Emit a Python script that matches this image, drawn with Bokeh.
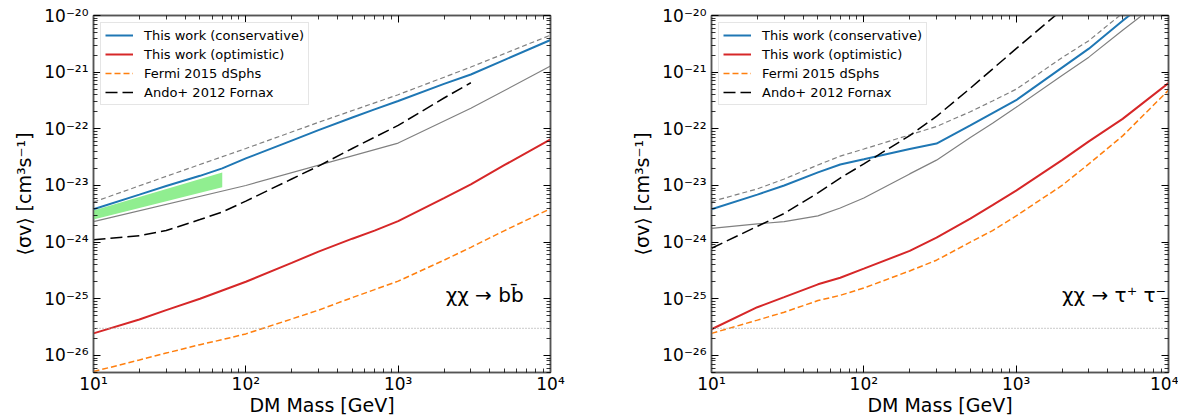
from bokeh.plotting import figure
from bokeh.layouts import row
from bokeh.models import (Range1d, FixedTicker, LogAxis, CustomJSTickFormatter,
                          Legend, LegendItem, Label, Span)
from bokeh.embed import file_html
from bokeh.resources import INLINE

# ---------------- data ----------------
mass = [10, 20, 30, 50, 70, 100, 200, 300, 500, 700, 1000, 2000, 3000, 5000, 10000]

# b bbar channel
bb_conservative = [3.8e-24, 6.9e-24, 9.8e-24, 1.48e-23, 2.0e-23, 3.0e-23, 6.2e-23, 9.5e-23,
                   1.58e-22, 2.2e-22, 3.1e-22, 6.2e-22, 9.1e-22, 1.65e-21, 3.7e-21]
bb_optimistic = [2.45e-26, 4.3e-26, 6.3e-26, 1.0e-25, 1.4e-25, 2.0e-25, 4.3e-25, 6.8e-25,
                 1.15e-24, 1.6e-24, 2.35e-24, 6.0e-24, 1.05e-23, 2.3e-23, 6.5e-23]
bb_fermi = [5.2e-27, 8.3e-27, 1.1e-26, 1.55e-26, 1.9e-26, 2.4e-26, 4.4e-26, 6.3e-26,
            1.05e-25, 1.45e-25, 2.05e-25, 4.8e-25, 8.1e-25, 1.6e-24, 3.9e-24]
bb_ando_mass = [10, 20, 30, 50, 70, 100, 200, 300, 500, 1000, 2000, 3000]
bb_ando = [1.1e-24, 1.3e-24, 1.6e-24, 2.5e-24, 3.4e-24, 5.3e-24, 1.3e-23, 2.2e-23,
           4.5e-23, 1.15e-22, 3.5e-22, 6.5e-22]
bb_gray_dash_mass = [10, 30, 100, 300, 1000, 3000, 10000]
bb_gray_dash = [5.1e-24, 1.45e-23, 4.5e-23, 1.3e-22, 4.0e-22, 1.23e-21, 4.5e-21]
bb_gray_solid_mass = [10, 100, 1000, 3000, 10000]
bb_gray_solid = [2.3e-24, 1.0e-23, 5.6e-23, 2.3e-22, 1.28e-21]
bb_band_mass = [10, 70]
bb_band_low = [2.5e-24, 9.3e-24]
bb_band_high = [3.6e-24, 1.7e-23]

# tau+ tau- channel
tt_conservative = [3.8e-24, 6.9e-24, 1.0e-23, 1.7e-23, 2.35e-23, 2.9e-23, 4.4e-23, 5.5e-23,
                   1.15e-22, 1.9e-22, 3.2e-22, 1.2e-21, 2.6e-21, 8.1e-21, 3.5e-20]
tt_optimistic = [2.9e-26, 7.1e-26, 1.07e-25, 1.8e-25, 2.35e-25, 3.4e-25, 7.0e-25, 1.2e-24,
                 2.6e-24, 4.5e-24, 8.1e-24, 2.8e-23, 6.0e-23, 1.5e-22, 6.4e-22]
tt_fermi = [2.45e-26, 4.2e-26, 5.8e-26, 9.3e-26, 1.15e-25, 1.55e-25, 3.1e-25, 4.8e-25,
            1.0e-24, 1.6e-24, 2.9e-24, 1.0e-23, 2.4e-23, 7.5e-23, 4.8e-22]
tt_ando_mass = [10, 20, 30, 50, 70, 100, 200, 300, 500, 1000, 2000]
tt_ando = [7.8e-25, 1.9e-24, 3.2e-24, 7.4e-24, 1.35e-23, 2.4e-23, 7.6e-23, 1.66e-22,
           5.2e-22, 2.6e-21, 1.26e-20]
tt_gray_dash = [5.2e-24, 8.7e-24, 1.3e-23, 2.3e-23, 3.3e-23, 4.4e-23, 7.8e-23, 1.1e-22,
                2.0e-22, 3.1e-22, 5.0e-22, 1.8e-21, 3.6e-21, 1.1e-20, 4.5e-20]
tt_gray_solid = [1.75e-24, 2.1e-24, 2.3e-24, 2.9e-24, 4.0e-24, 6.0e-24, 1.6e-23, 2.8e-23,
                 7.0e-23, 1.25e-22, 2.4e-22, 8.7e-22, 1.84e-21, 5.5e-21, 2.3e-20]

thermal_relic = 3e-26

legend_labels = ["This work (conservative)", "This work (optimistic)",
                 "Fermi 2015 dSphs", "Ando+ 2012 Fornax"]
x_label = "DM Mass [GeV]"
y_label = "⟨σv⟩ [cm³s⁻¹]"
x_ticks = [10, 100, 1000, 10000]
y_ticks = [1e-26, 1e-25, 1e-24, 1e-23, 1e-22, 1e-21, 1e-20]

# ---------------- styling ----------------
FONT = "DejaVu Sans"
BLUE = "#1f77b4"
RED = "#d62728"
ORANGE = "#ff7f0e"
GRAY = "#808080"
SPINE = "#555555"

x_minor = [m * 10 ** k for k in range(1, 4) for m in range(2, 10)]
y_minor = [m * 10.0 ** k for k in range(-27, -20) for m in range(2, 10) if m * 10.0 ** k >= 5e-27]

sup_js = """
const s = {"0":"\u2070","1":"\u00b9","2":"\u00b2","3":"\u00b3","4":"\u2074","5":"\u2075",
           "6":"\u2076","7":"\u2077","8":"\u2078","9":"\u2079","-":"\u207b"};
const e = Math.round(Math.log10(tick));
return "10" + String(e).split("").map(c => s[c]).join("");
"""


def style_axis(ax, show_labels):
    ax.axis_line_color = SPINE
    ax.axis_line_width = 1.5
    ax.major_tick_in = 7
    ax.major_tick_out = 0
    ax.minor_tick_in = 4
    ax.minor_tick_out = 0
    ax.major_tick_line_color = "black"
    ax.minor_tick_line_color = "black"
    ax.major_tick_line_width = 1
    ax.minor_tick_line_width = 0.8
    ax.major_label_text_font = FONT
    ax.axis_label_text_font = FONT
    ax.axis_label_text_font_style = "normal"
    ax.axis_label_text_color = "black"
    ax.major_label_text_color = "black"
    if show_labels:
        ax.major_label_text_font_size = "17px"
        ax.axis_label_text_font_size = "19px"
    else:
        ax.major_label_standoff = 0
        ax.axis_label_standoff = 0
        ax.axis_label = None


def make_panel(left_border, right_border, cons, opt, fermi, ando_m, ando, gd_m, gd, gs_m, gs,
               ann_text, ann_x, band=None):
    p = figure(x_axis_type="log", y_axis_type="log",
               x_range=Range1d(10, 1e4), y_range=Range1d(5e-27, 1e-20),
               frame_width=457, frame_height=357,
               min_border_left=left_border, min_border_right=right_border,
               min_border_top=15, min_border_bottom=44,
               output_backend="svg", toolbar_location=None)
    p.grid.visible = False
    p.outline_line_color = SPINE
    p.outline_line_width = 1.5
    p.background_fill_color = "white"
    p.border_fill_color = "white"

    xt = FixedTicker(ticks=x_ticks, minor_ticks=x_minor)
    yt = FixedTicker(ticks=y_ticks, minor_ticks=y_minor)
    fmt = CustomJSTickFormatter(code=sup_js)
    blank = CustomJSTickFormatter(code="return '';")
    p.xaxis.ticker = xt
    p.yaxis.ticker = yt
    p.xaxis.formatter = fmt
    p.yaxis.formatter = fmt
    p.xaxis.axis_label = x_label
    p.yaxis.axis_label = y_label
    style_axis(p.xaxis[0], True)
    style_axis(p.yaxis[0], True)
    p.xaxis.major_label_standoff = 1
    p.xaxis.axis_label_standoff = -3
    p.yaxis.major_label_standoff = 5
    p.yaxis.axis_label_standoff = 6

    top = LogAxis(ticker=xt, formatter=blank)
    right = LogAxis(ticker=yt, formatter=blank)
    style_axis(top, False)
    style_axis(right, False)
    p.add_layout(top, "above")
    p.add_layout(right, "right")

    if band is not None:
        p.varea(x=band[0], y1=band[1], y2=band[2], fill_color="#90ee90", fill_alpha=1.0)

    p.line(gd_m, gd, line_color=GRAY, line_width=1.2, line_dash="5 3")
    p.line(gs_m, gs, line_color=GRAY, line_width=1.2)
    p.add_layout(Span(location=thermal_relic, dimension="width", line_color="#aaaaaa",
                      line_width=1.2, line_dash="1 2"))

    r1 = p.line(mass, cons, line_color=BLUE, line_width=2)
    r2 = p.line(mass, opt, line_color=RED, line_width=2)
    r3 = p.line(mass, fermi, line_color=ORANGE, line_width=1.5, line_dash="6 3")
    r4 = p.line(ando_m, ando, line_color="black", line_width=1.5, line_dash="12 5")

    legend = Legend(items=[LegendItem(label=l, renderers=[r]) for l, r in
                           zip(legend_labels, [r1, r2, r3, r4])],
                    location="top_left")
    legend.label_text_font = FONT
    legend.label_text_font_size = "13px"
    legend.label_text_color = "black"
    legend.glyph_width = 28
    legend.glyph_height = 16
    legend.label_height = 16
    legend.label_standoff = 11
    legend.spacing = 3
    legend.padding = 4
    legend.margin = 7
    legend.border_line_color = "#cccccc"
    legend.border_line_width = 1
    legend.background_fill_alpha = 0.8
    p.add_layout(legend)

    p.add_layout(Label(x=ann_x, y=1.15e-25, text=ann_text, text_align="left",
                       text_baseline="middle", text_font=FONT, text_font_size="20px",
                       text_color="black"))
    return p


p1 = make_panel(93, 75, bb_conservative, bb_optimistic, bb_fermi, bb_ando_mass, bb_ando,
                bb_gray_dash_mass, bb_gray_dash, bb_gray_solid_mass, bb_gray_solid,
                "χχ → bb̄", 2050, band=(bb_band_mass, bb_band_low, bb_band_high))
p2 = make_panel(86, 10, tt_conservative, tt_optimistic, tt_fermi, tt_ando_mass, tt_ando,
                mass, tt_gray_dash, mass, tt_gray_solid,
                "χχ → τ⁺ τ⁻", 2000)

layout = row(p1, p2)
open("out.html", "w").write(file_html(layout, INLINE))
